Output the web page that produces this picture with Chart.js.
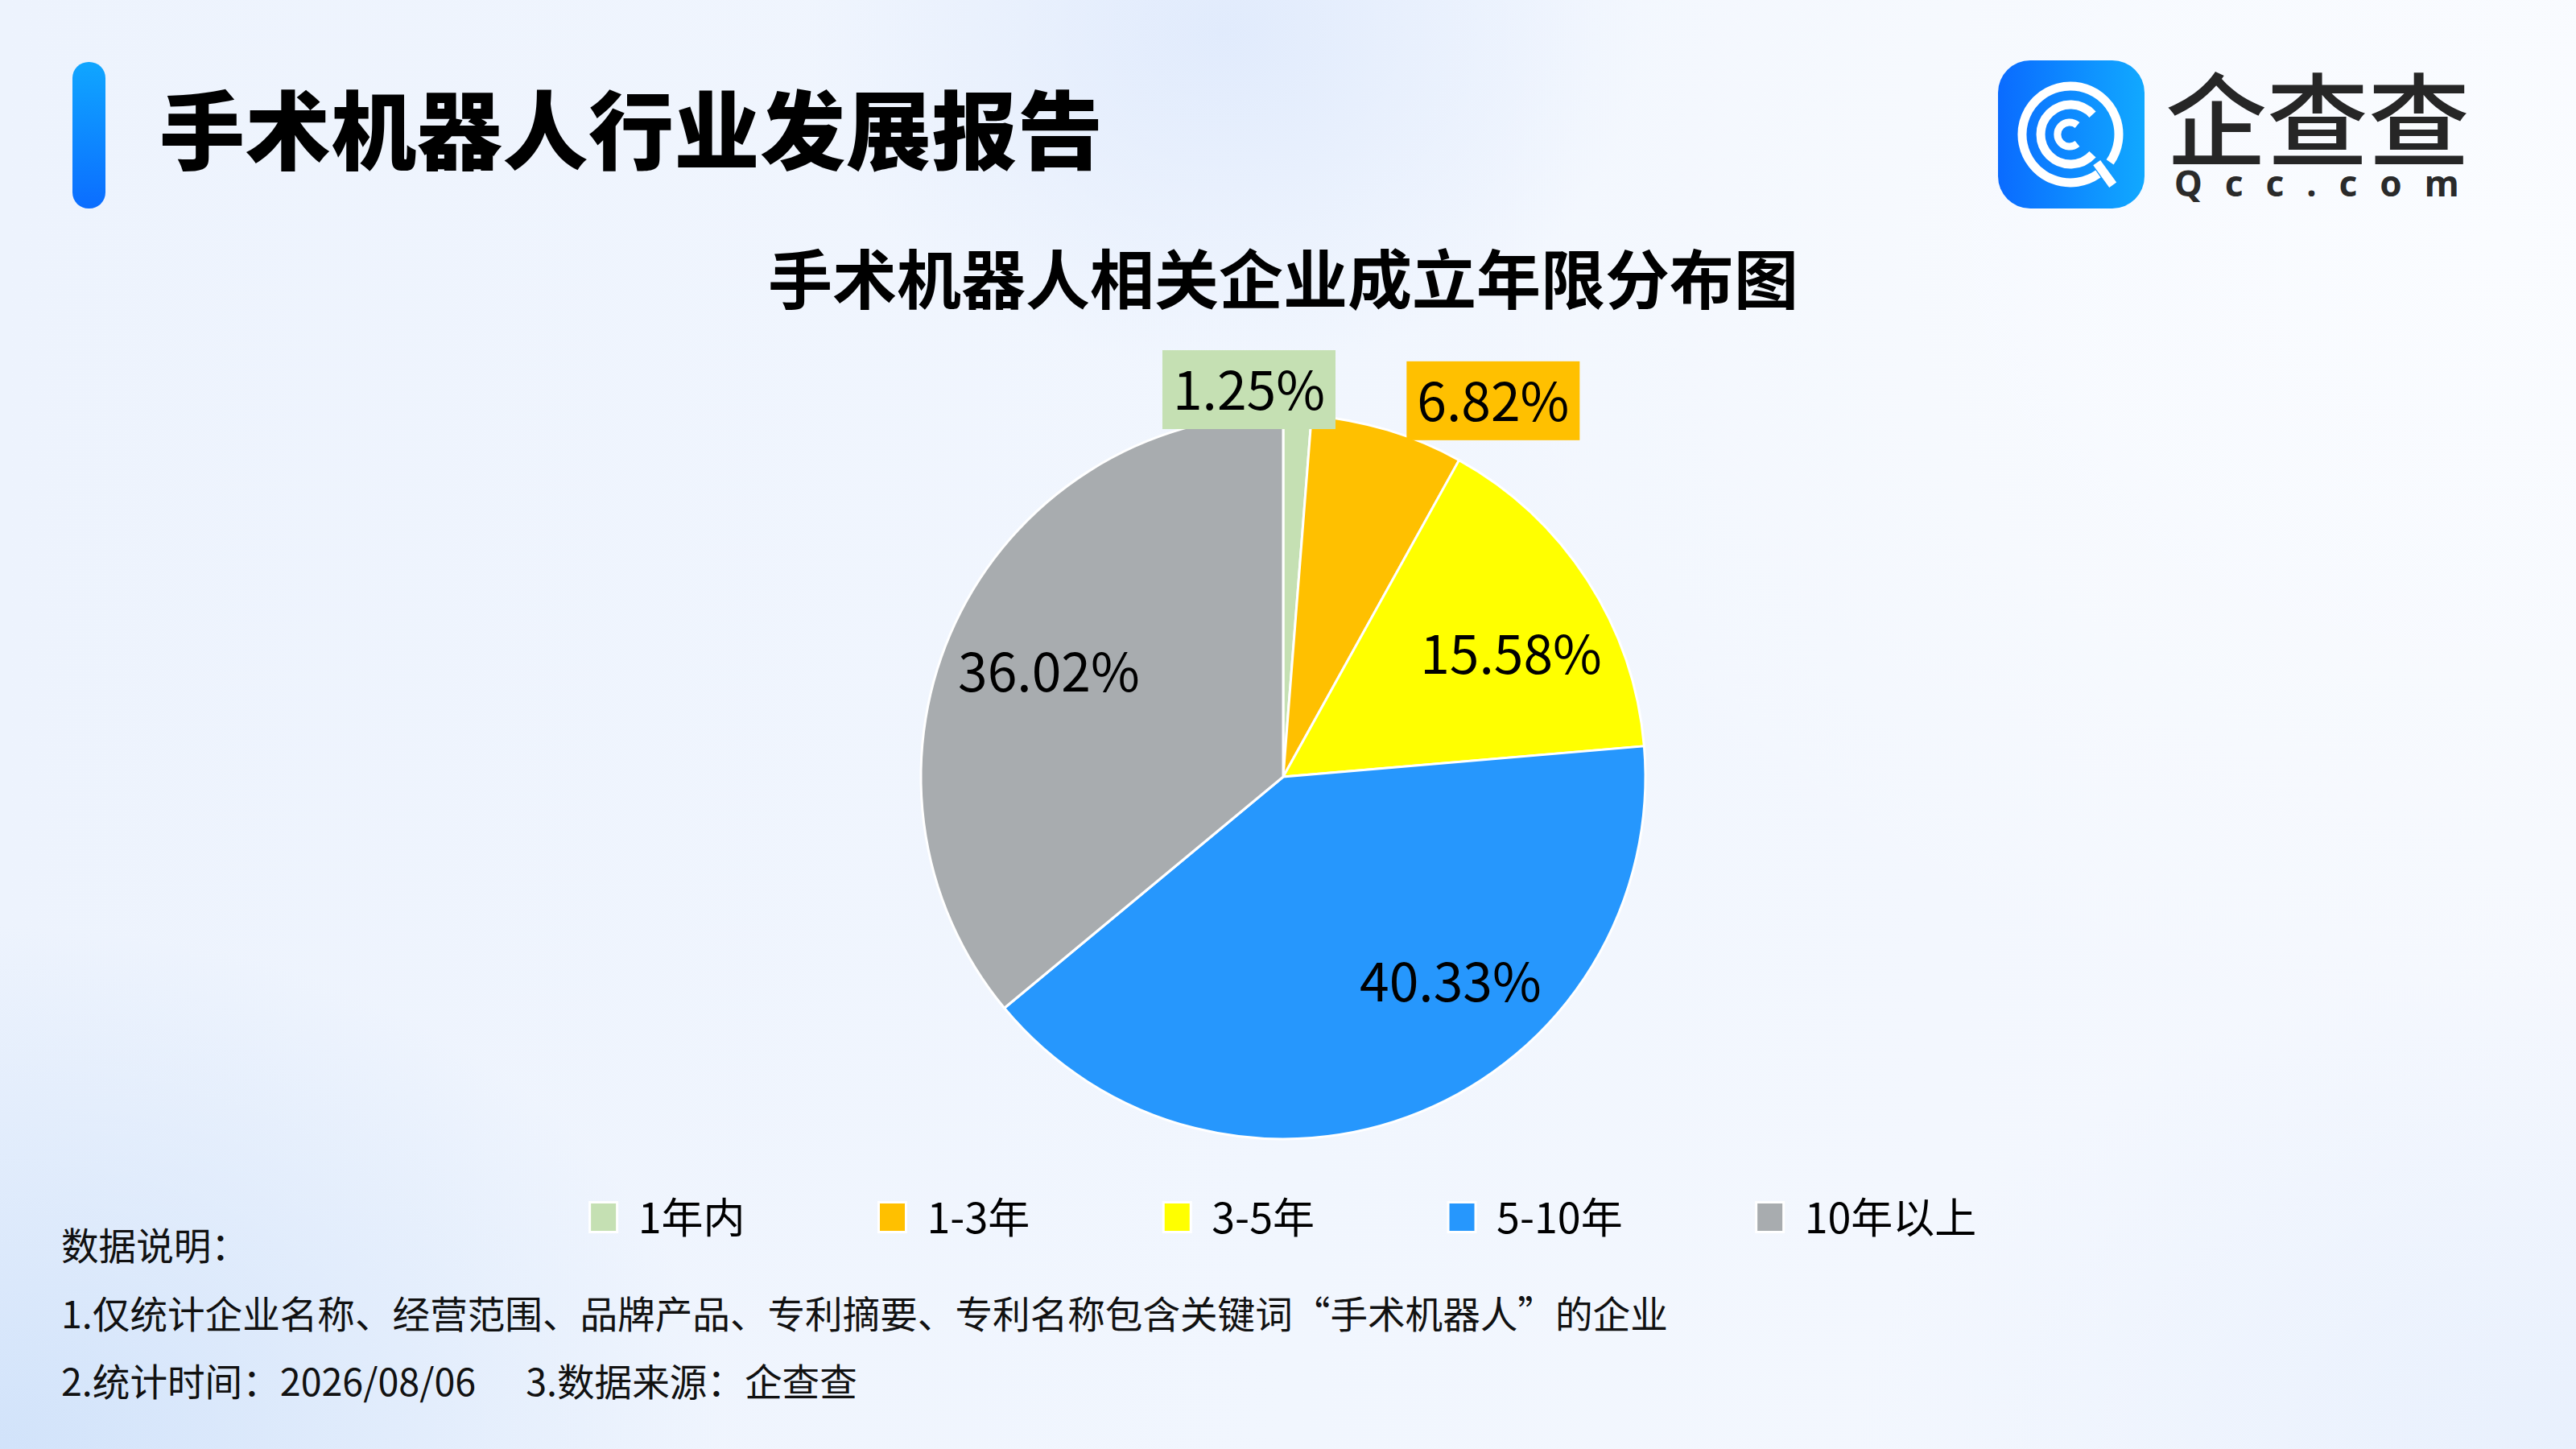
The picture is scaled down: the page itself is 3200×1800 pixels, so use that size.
<!DOCTYPE html>
<html lang="zh-CN">
<head>
<meta charset="utf-8">
<title>手术机器人行业发展报告</title>
<script src="https://cdn.jsdelivr.net/npm/chart.js@4.4.1/dist/chart.umd.min.js"></script>
<style>
  html, body { margin: 0; padding: 0; }
  body {
    width: 3200px; height: 1800px; position: relative; overflow: hidden;
    font-family: "Noto Sans CJK SC", "Noto Sans", sans-serif;
    background:
      radial-gradient(ellipse 520px 420px at 1520px 40px, rgba(222,233,252,0.85), rgba(222,233,252,0)),
      radial-gradient(ellipse 900px 650px at 0px 1800px, rgba(208,226,250,0.95), rgba(208,226,250,0)),
      radial-gradient(ellipse 1300px 1000px at 3100px 300px, rgba(250,252,255,1), rgba(250,252,255,0)),
      radial-gradient(ellipse 900px 600px at 3200px 1800px, rgba(232,240,253,1), rgba(232,240,253,0)),
      linear-gradient(90deg, #edf3fd 0%, #f1f6fe 50%, #f5f8fe 100%);
  }
  #chart { position: absolute; left: 0; top: 0; }
  .bar {
    position: absolute; left: 90px; top: 77px; width: 41px; height: 182px; border-radius: 20px;
    background: linear-gradient(180deg, #10a6ff 0%, #0b6dff 100%);
  }
  .head {
    position: absolute; left: 198px; top: 103px; font-size: 106px; line-height: 106px;
    font-weight: 900; color: #000; white-space: nowrap; letter-spacing: 0.6px;
  }
  .logo { position: absolute; left: 2482px; top: 75px; }
  .brand {
    position: absolute; left: 2690px; top: 79px; font-size: 126px; line-height: 126px;
    color: #262626; font-weight: 500; white-space: nowrap;
  }
  .domain {
    position: absolute; left: 2701px; top: 203px; font-family: "Noto Sans", sans-serif;
    font-size: 44px; line-height: 48px; letter-spacing: 28px; font-weight: 700; color: #2a2a2a;
    white-space: nowrap;
  }
  .note {
    position: absolute; left: 76px; font-size: 46.6px; line-height: 47px; color: #111; white-space: pre;
  }
</style>
</head>
<body>
<div class="bar"></div>
<div class="head">手术机器人行业发展报告</div>

<svg class="logo" width="182" height="184" viewBox="0 0 182 184">
  <defs>
    <linearGradient id="lg" x1="0" y1="0" x2="1" y2="0">
      <stop offset="0" stop-color="#0a6bff"/>
      <stop offset="1" stop-color="#11a9ff"/>
    </linearGradient>
  </defs>
  <rect x="0" y="0" width="182" height="184" rx="40" ry="40" fill="url(#lg)"/>
  <g fill="none" stroke="#ffffff" stroke-width="11">
    <path d="M 124.4 141.1 A 60 60 0 1 1 139.1 126.4"/>
    <path d="M 122.7 127.1 L 142.7 154.8"/>
    <path d="M 117.5 116.8 A 37 37 0 1 1 117.5 67.2"/>
    <path d="M 98.5 103.5 A 15 15 0 1 1 98.5 80.5" stroke-width="9"/>
  </g>
</svg>
<div class="brand">企查查</div>
<div class="domain">Qcc.com</div>

<div class="note" style="top:1521px">数据说明：</div>
<div class="note" style="top:1606px">1.仅统计企业名称、经营范围、品牌产品、专利摘要、专利名称包含关键词“手术机器人”的企业</div>
<div class="note" style="top:1690px">2.统计时间：2026/08/06<span style="display:inline-block;width:62px"></span>3.数据来源：企查查</div>

<canvas id="chart" width="3200" height="1800" style="width:3200px;height:1800px"></canvas>

<script>
// ---- data ----
const categories = ['1年内', '1-3年', '3-5年', '5-10年', '10年以上'];
const shares = [1.25, 6.82, 15.58, 40.33, 36.02];
const sliceColors = ['#c5e0b3', '#ffc000', '#ffff00', '#2697fd', '#a8acaf'];
const chartTitle = '手术机器人相关企业成立年限分布图';

// label placement relative to each slice's mid-angle (style only)
const labelPlacement = [
  { dist: 1.073, da: -7.3, box: true },
  { dist: 1.189, da: 12.4, box: true },
  { dist: 0.715, da: 4.5, box: false },
  { dist: 0.730, da: -17.0, box: false },
  { dist: 0.709, da: -1.0, box: false }
];

const FONT = '"Noto Sans CJK SC", "Noto Sans", sans-serif';

const sliceLabels = {
  id: 'sliceLabels',
  afterDatasetsDraw(chart, args, opts) {
    const ctx = chart.ctx;
    const meta = chart.getDatasetMeta(0);
    const ds = chart.data.datasets[0];
    ctx.save();
    ctx.font = opts.size + 'px ' + FONT;
    ctx.textAlign = 'center';
    ctx.textBaseline = 'middle';
    meta.data.forEach((arc, i) => {
      const p = arc.getProps(['x', 'y', 'startAngle', 'endAngle', 'outerRadius'], true);
      const pl = opts.place[i];
      const a = (p.startAngle + p.endAngle) / 2 + pl.da * Math.PI / 180;
      const px = p.x + Math.cos(a) * p.outerRadius * pl.dist;
      const py = p.y + Math.sin(a) * p.outerRadius * pl.dist;
      const txt = ds.data[i].toFixed(2) + '%';
      if (pl.box) {
        const w = ctx.measureText(txt).width + opts.padX * 2;
        const h = opts.boxH;
        ctx.fillStyle = ds.backgroundColor[i];
        ctx.fillRect(px - w / 2, py - h / 2, w, h);
      }
      ctx.fillStyle = '#000';
      ctx.fillText(txt, px, py + opts.dy);
    });
    ctx.restore();
  }
};

new Chart(document.getElementById('chart'), {
  type: 'pie',
  data: {
    labels: categories,
    datasets: [{
      data: shares,
      backgroundColor: sliceColors,
      borderColor: '#ffffff',
      borderWidth: 3
    }]
  },
  options: {
    responsive: false,
    devicePixelRatio: 1,
    animation: false,
    radius: 450,
    layout: { padding: { left: 0, right: 12, top: 0, bottom: 252 } },
    plugins: {
      title: {
        display: true,
        text: chartTitle,
        color: '#000',
        font: { family: FONT, size: 80, weight: 'bold' },
        padding: { top: 299, bottom: 215 }
      },
      legend: {
        position: 'bottom',
        labels: {
          color: '#000',
          font: { family: FONT, size: 52 },
          boxWidth: 34,
          boxHeight: 37,
          padding: 166
        }
      },
      tooltip: { enabled: false },
      sliceLabels: { size: 66, padX: 13, boxH: 98, dy: 0, place: labelPlacement }
    }
  },
  plugins: [sliceLabels]
});
</script>
</body>
</html>
